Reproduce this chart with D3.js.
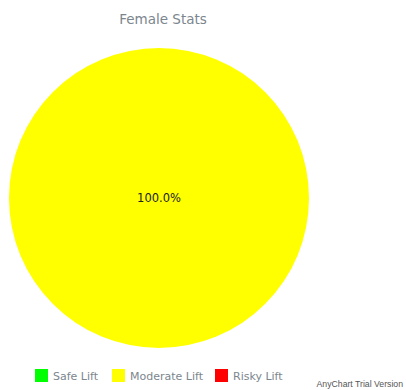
<!DOCTYPE html>
<html>
<head>
<meta charset="utf-8">
<script src="https://cdn.jsdelivr.net/npm/d3@7"></script>
<style>
  html, body { margin: 0; padding: 0; background: #fff; }
  svg { display: block; }
</style>
</head>
<body>
<svg id="chart" width="406" height="390"></svg>
<script>
// Lift risk breakdown for the female group
const categories = ["Safe Lift", "Moderate Lift", "Risky Lift"];
const values = [0, 1, 0];
const colors = ["#00ff00", "#ffff00", "#ff0000"];
const titleText = "Female Stats";

const svg = d3.select("#chart");
const font = "Verdana, 'DejaVu Sans', sans-serif";
const textGray = "#7c868e";

svg.append("text")
  .attr("x", 163).attr("y", 24)
  .attr("text-anchor", "middle")
  .attr("font-family", font)
  .attr("font-size", 13.5)
  .attr("fill", textGray)
  .text(titleText);

const cx = 159, cy = 198, radius = 150;
const total = d3.sum(values);
const pie = d3.pie().sort(null).value(d => d.value);
const arcs = pie(categories.map((c, i) => ({ name: c, value: values[i], color: colors[i] })));
const arc = d3.arc().innerRadius(0).outerRadius(radius);

const g = svg.append("g").attr("transform", `translate(${cx},${cy})`);
g.selectAll("path")
  .data(arcs.filter(d => d.data.value > 0))
  .join("path")
  .attr("d", arc)
  .attr("fill", d => d.data.color);

const labelArc = d3.arc().innerRadius(radius * 0.6).outerRadius(radius * 0.6);
g.selectAll("text.lbl")
  .data(arcs.filter(d => d.data.value > 0))
  .join("text")
  .attr("class", "lbl")
  .attr("transform", d => {
    const full = d.endAngle - d.startAngle >= 2 * Math.PI - 1e-6;
    return full ? "translate(0,0)" : `translate(${labelArc.centroid(d)})`;
  })
  .attr("text-anchor", "middle")
  .attr("dy", "0.35em")
  .attr("font-family", font)
  .attr("font-size", 11.5)
  .attr("fill", "#222")
  .text(d => (d.data.value / total * 100).toFixed(1) + "%");

// Legend
const legendX = [35, 112, 215];
const legend = svg.append("g");
categories.forEach((c, i) => {
  const item = legend.append("g").attr("transform", `translate(${legendX[i]},369)`);
  item.append("rect").attr("width", 13).attr("height", 13).attr("fill", colors[i]);
  item.append("text")
    .attr("x", 18).attr("y", 11)
    .attr("font-family", font)
    .attr("font-size", 11)
    .attr("fill", textGray)
    .text(c);
});

svg.append("text")
  .attr("x", 403).attr("y", 387)
  .attr("text-anchor", "end")
  .attr("font-family", "Arial, 'Liberation Sans', sans-serif")
  .attr("font-size", 8.7)
  .attr("fill", "#555")
  .text("AnyChart Trial Version");
</script>
</body>
</html>
